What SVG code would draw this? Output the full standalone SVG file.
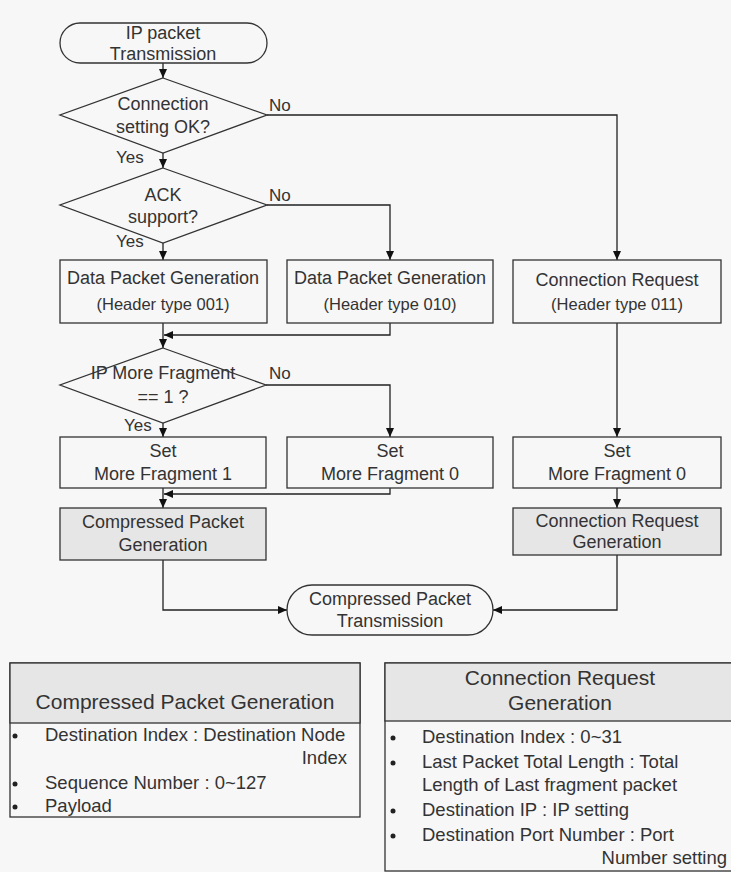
<svg xmlns="http://www.w3.org/2000/svg" width="731" height="872" viewBox="0 0 731 872">
<defs>
<style>
.bg{fill:#f7f7f7}
.n{fill:#f7f7f7;stroke:#333;stroke-width:1.3}
.g{fill:#e6e6e6;stroke:#333;stroke-width:1.3}
.c{fill:none;stroke:#222;stroke-width:1.3}
text{font-family:"Liberation Sans",Arial,sans-serif;fill:#333;font-size:18px}
.m{text-anchor:middle}
.s{font-size:16.5px}
.l{font-size:17px}
.h{font-size:21px}
.t{font-size:18.5px}
.e{text-anchor:end}
</style>
<marker id="a" markerWidth="10" markerHeight="10" refX="9" refY="5" orient="auto" markerUnits="userSpaceOnUse">
<path d="M0,1 L9,5 L0,9 Z" fill="#111"/>
</marker>
</defs>
<rect class="bg" x="0" y="0" width="731" height="872"/>

<g id="connectors">
<path class="c" d="M163,63 V78" marker-end="url(#a)"/>
<path class="c" d="M163,153 V168" marker-end="url(#a)"/>
<path class="c" d="M267,115 H617 V260" marker-end="url(#a)"/>
<path class="c" d="M267,205 H390 V260" marker-end="url(#a)"/>
<path class="c" d="M163,243 V260" marker-end="url(#a)"/>
<path class="c" d="M163,323 V348" marker-end="url(#a)"/>
<path class="c" d="M390,323 V335 H164" marker-end="url(#a)"/>
<path class="c" d="M266,385 H390 V437" marker-end="url(#a)"/>
<path class="c" d="M163,423 V437" marker-end="url(#a)"/>
<path class="c" d="M617,323 V437" marker-end="url(#a)"/>
<path class="c" d="M163,488 V508" marker-end="url(#a)"/>
<path class="c" d="M390,488 V494 H164" marker-end="url(#a)"/>
<path class="c" d="M617,488 V508" marker-end="url(#a)"/>
<path class="c" d="M163,560 V610 H287" marker-end="url(#a)"/>
<path class="c" d="M617,555 V610 H493" marker-end="url(#a)"/>
<text class="l" x="269" y="111">No</text>
<text class="l" x="269" y="201">No</text>
<text class="l" x="269" y="379">No</text>
<text class="l" x="116" y="163">Yes</text>
<text class="l" x="116" y="247">Yes</text>
<text class="l" x="124" y="431">Yes</text>
</g>

<g id="start">
<rect class="n" x="60" y="23" width="207" height="40" rx="20"/>
<text class="m" x="163" y="39">IP packet</text>
<text class="m" x="163" y="60">Transmission</text>
</g>

<g id="d1">
<polygon class="n" points="163,78 267,115 163,153 60,115"/>
<text class="m" x="163" y="110">Connection</text>
<text class="m" x="163" y="133">setting OK?</text>
</g>

<g id="d2">
<polygon class="n" points="163,168 267,205 163,243 60,205"/>
<text class="m" x="163" y="201">ACK</text>
<text class="m" x="163" y="223">support?</text>
</g>

<g id="b1">
<rect class="n" x="60" y="260" width="207" height="63"/>
<text class="m" x="163" y="284">Data Packet Generation</text>
<text class="m s" x="163" y="310">(Header type 001)</text>
</g>

<g id="b2">
<rect class="n" x="287" y="260" width="206" height="63"/>
<text class="m" x="390" y="284">Data Packet Generation</text>
<text class="m s" x="390" y="310">(Header type 010)</text>
</g>

<g id="b3">
<rect class="n" x="513" y="260" width="208" height="63"/>
<text class="m" x="617" y="286">Connection Request</text>
<text class="m s" x="617" y="310">(Header type 011)</text>
</g>

<g id="d3">
<polygon class="n" points="163,348 266,385 163,423 60,385"/>
<text class="m" x="163" y="379">IP More Fragment</text>
<text class="m" x="163" y="403">== 1 ?</text>
</g>

<g id="s1">
<rect class="n" x="60" y="437" width="206" height="51"/>
<text class="m" x="163" y="457">Set</text>
<text class="m" x="163" y="480">More Fragment 1</text>
</g>

<g id="s2">
<rect class="n" x="287" y="437" width="206" height="51"/>
<text class="m" x="390" y="457">Set</text>
<text class="m" x="390" y="480">More Fragment 0</text>
</g>

<g id="s3">
<rect class="n" x="513" y="437" width="208" height="51"/>
<text class="m" x="617" y="457">Set</text>
<text class="m" x="617" y="480">More Fragment 0</text>
</g>

<g id="cpg">
<rect class="g" x="60" y="508" width="206" height="52"/>
<text class="m" x="163" y="528">Compressed Packet</text>
<text class="m" x="163" y="551">Generation</text>
</g>

<g id="crg">
<rect class="g" x="513" y="508" width="208" height="47"/>
<text class="m" x="617" y="527">Connection Request</text>
<text class="m" x="617" y="548">Generation</text>
</g>

<g id="end">
<rect class="n" x="287" y="585" width="206" height="50" rx="25"/>
<text class="m" x="390" y="605">Compressed Packet</text>
<text class="m" x="390" y="627">Transmission</text>
</g>

<g id="table-cpg">
<rect class="n" x="10" y="663" width="350" height="154"/>
<rect class="g" x="10" y="663" width="350" height="60"/>
<text class="m h" x="185" y="709">Compressed Packet Generation</text>
<circle cx="15" cy="736" r="2.5" fill="#222"/>
<circle cx="15" cy="784" r="2.5" fill="#222"/>
<circle cx="15" cy="807" r="2.5" fill="#222"/>
<text class="t" x="45" y="741">Destination Index : Destination Node</text>
<text class="t e" x="347" y="764">Index</text>
<text class="t" x="45" y="789">Sequence Number : 0~127</text>
<text class="t" x="45" y="812">Payload</text>
</g>

<g id="table-crg">
<rect class="n" x="385" y="663" width="355" height="208"/>
<rect class="g" x="385" y="663" width="355" height="58"/>
<text class="m h" x="560" y="685">Connection Request</text>
<text class="m h" x="560" y="710">Generation</text>
<circle cx="393" cy="738" r="2.5" fill="#222"/>
<circle cx="393" cy="763" r="2.5" fill="#222"/>
<circle cx="393" cy="811" r="2.5" fill="#222"/>
<circle cx="393" cy="836" r="2.5" fill="#222"/>
<text class="t" x="422" y="743">Destination Index : 0~31</text>
<text class="t" x="422" y="768">Last Packet Total Length : Total</text>
<text class="t" x="422" y="791">Length of Last fragment packet</text>
<text class="t" x="422" y="816">Destination IP : IP setting</text>
<text class="t" x="422" y="841">Destination Port Number : Port</text>
<text class="t e" x="727" y="864">Number setting</text>
</g>
</svg>
